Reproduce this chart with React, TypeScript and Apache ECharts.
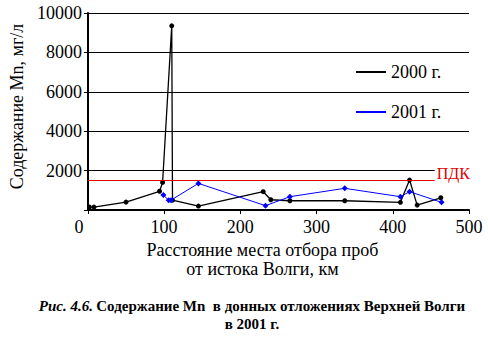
import React, { useEffect, useRef } from "react";
import * as echarts from "echarts";

const FONT = "Liberation Serif";

const dist2000 = [2, 8, 50, 94, 98, 110, 111, 145, 230, 240, 265, 337, 410, 422, 432, 463];
const mn2000 = [150, 150, 400, 950, 1400, 9350, 500, 200, 930, 520, 470, 470, 390, 1520, 250, 620];

const dist2001 = [99, 106, 109, 145, 233, 265, 337, 410, 422, 464];
const mn2001 = [760, 500, 500, 1350, 220, 675, 1100, 675, 930, 390];

const seriesNames = ["2000 г.", "2001 г."];
const pdk = 1500;
const gridLine2000 = 2000;
const refLineEndKm = 455;

const yTitle = "Содержание Mn, мг/л";
const xTitle = "Расстояние места отбора проб\nот истока Волги, км";
const captionItalic = "Рис. 4.6.";
const captionRest = "Содержание Mn  в донных отложениях Верхней Волги";
const captionLine2 = "в 2001 г.";

const css = "#chart-root svg text, #chart-root svg tspan { font-family: 'Liberation Serif', 'Times New Roman', serif !important; }";

export default function App() {
  const ref = useRef<HTMLDivElement>(null);
  useEffect(() => {
    if (!ref.current) return;
    const chart = echarts.init(ref.current, null, { renderer: "svg" });
    const d2000 = dist2000.map((x, i) => [x, mn2000[i]]);
    const d2001 = dist2001.map((x, i) => [x, mn2001[i]]);
    chart.setOption({
      animation: false,
      backgroundColor: "#fff",
      grid: { left: 87, right: 19, top: 13, bottom: 144 },
      legend: {
        orient: "vertical",
        left: 351,
        top: 58,
        icon: "rect",
        itemWidth: 30,
        itemHeight: 2,
        itemGap: 22,
        textStyle: { fontFamily: FONT, fontSize: 18, color: "#000" },
        data: seriesNames,
      },
      xAxis: {
        type: "value",
        min: 0,
        max: 500,
        interval: 100,
        name: xTitle,
        nameLocation: "middle",
        nameGap: 25,
        nameTextStyle: {
          fontFamily: FONT,
          fontSize: 18,
          color: "#000",
          lineHeight: 19,
          padding: [0, 32, 0, 0],
        },
        axisLine: { show: true, onZero: false, lineStyle: { color: "#000", width: 2 } },
        axisTick: { show: true, inside: false, length: 4, lineStyle: { color: "#000", width: 1 } },
        axisLabel: {
          margin: 8,
          fontFamily: FONT,
          fontSize: 18,
          color: "#000",
          formatter: (v: number) => (v === 0 ? "{z|0}" : String(v)),
          rich: { z: { fontFamily: FONT, fontSize: 18, color: "#000", padding: [0, 18, 0, 0] } },
        },
        splitLine: { show: false },
      },
      yAxis: {
        type: "value",
        min: 0,
        max: 10000,
        interval: 2000,
        name: yTitle,
        nameLocation: "middle",
        nameGap: 55,
        nameTextStyle: { fontFamily: FONT, fontSize: 18, color: "#000", padding: [0, 0, 0, 10] },
        axisLine: { show: true, lineStyle: { color: "#000", width: 2 } },
        axisTick: { show: true, length: 4, lineStyle: { color: "#000", width: 1 } },
        axisLabel: {
          margin: 6,
          fontFamily: FONT,
          fontSize: 18,
          color: "#000",
          formatter: (v: number) => (v === 0 ? "" : String(v)),
        },
        splitLine: {
          show: true,
          lineStyle: {
            color: ["rgba(0,0,0,0)", "rgba(0,0,0,0)", "#000", "#000", "#000", "#000"],
            width: 1,
          },
        },
      },
      series: [
        {
          name: seriesNames[0],
          type: "line",
          data: d2000,
          color: "#000",
          lineStyle: { color: "#000", width: 1.3 },
          symbol: "circle",
          symbolSize: 5,
          itemStyle: { color: "#000" },
          z: 3,
          markLine: {
            silent: true,
            symbol: ["none", "none"],
            animation: false,
            data: [
              [
                { coord: [0, gridLine2000], lineStyle: { color: "#000", width: 1, type: "solid" }, label: { show: false } },
                { coord: [refLineEndKm, gridLine2000] },
              ],
              [
                {
                  coord: [0, pdk],
                  lineStyle: { color: "#e00000", width: 1, type: "solid" },
                  label: {
                    show: true,
                    position: "end",
                    formatter: "ПДК",
                    fontFamily: FONT,
                    fontSize: 16,
                    color: "#e00000",
                    distance: 2,
                    offset: [0, -7],
                  },
                },
                { coord: [refLineEndKm, pdk] },
              ],
            ],
          },
        },
        {
          name: seriesNames[1],
          type: "line",
          data: d2001,
          color: "#0000ff",
          lineStyle: { color: "#0000ff", width: 1 },
          symbol: "diamond",
          symbolSize: 6,
          itemStyle: { color: "#0000ff" },
          z: 4,
        },
      ],
      graphic: [
        {
          type: "text",
          x: 252,
          y: 297,
          style: {
            text: "{i|" + captionItalic + "} {b|" + captionRest + "}\n{b|" + captionLine2 + "}",
            align: "center",
            verticalAlign: "top",
            fill: "#000",
            rich: {
              i: { fontFamily: FONT, fontSize: 15, fontWeight: "bold", fontStyle: "italic", lineHeight: 18 },
              b: { fontFamily: FONT, fontSize: 15, fontWeight: "bold", lineHeight: 18 },
            },
          },
        },
      ],
    });
    return () => chart.dispose();
  }, []);
  return (
    <div id="chart-root">
      <style>{css}</style>
      <div ref={ref} style={{ width: 488, height: 354, position: "absolute", left: 0, top: 0 }} />
    </div>
  );
}
